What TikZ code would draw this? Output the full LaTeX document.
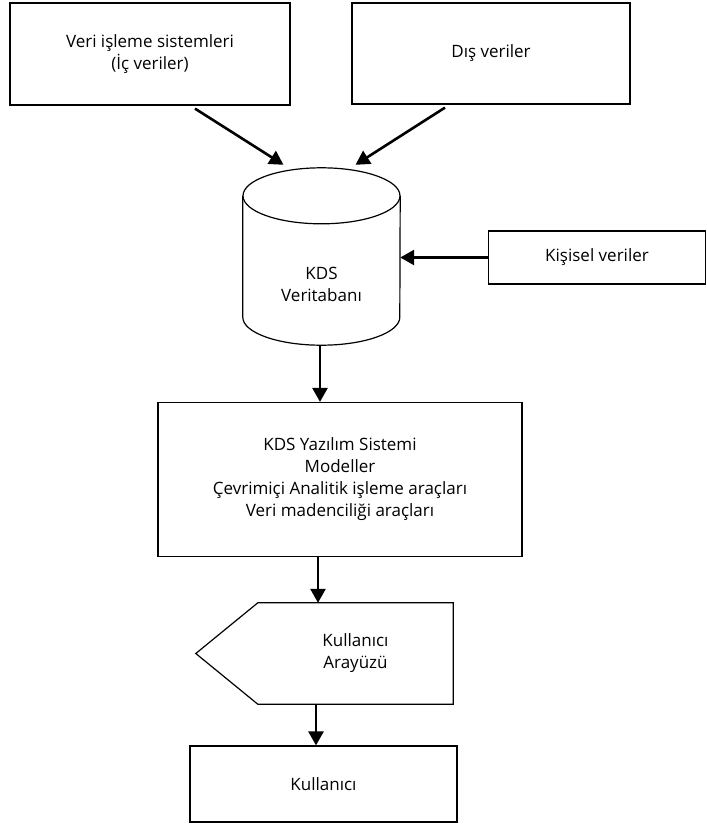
\documentclass[tikz,border=0pt]{standalone}
\usepackage{fontspec}
\setmainfont{Open Sans}
\usetikzlibrary{arrows.meta,positioning,calc}

\begin{document}
\begin{tikzpicture}[x=1pt,y=1pt,
    kutu/.style={draw, line width=1.2pt, align=center, inner sep=0pt,
      font=\fontsize{17}{22}\selectfont},
    ok/.style={line width=2.6pt, -{Triangle[length=14pt,width=15pt]}}]
  \useasboundingbox (0,0) rectangle (707,-825);

  % Veri kaynaklari
  \node[kutu, minimum width=280pt, minimum height=102pt] (ic) at (150,-54) {Veri işleme sistemleri\\(İç veriler)};
  \node[kutu, minimum width=278pt, minimum height=101pt] (dis) at (491,-53.5) {Dış veriler};
  \node[kutu, minimum width=217pt, minimum height=53pt] (kv) at (597,-257.5) {Kişisel veriler};

  % Veritabani (silindir)
  \node[inner sep=0pt, minimum width=157pt, minimum height=177pt,
    label={[align=center, yshift=-28pt, font=\fontsize{17}{22}\selectfont]center:KDS\\Veritabanı}] (db) at (321.5,-256.5) {};
  \draw[line width=1.2pt] ($(db.north)+(0,-28)$) ellipse [x radius=78.5pt, y radius=28pt];
  \draw[line width=1.2pt] ($(db.north west)+(0,-28)$) -- ($(db.south west)+(0,28)$)
    arc[start angle=180, end angle=360, x radius=78.5pt, y radius=28pt]
    -- ($(db.north east)+(0,-28)$);

  \node[kutu, minimum width=364pt, minimum height=154pt] (yz) at (340,-479.5) {KDS Yazılım Sistemi\\Modeller\\Çevrimiçi Analitik işleme araçları\\Veri madenciliği araçları};

  % Kullanici arayuzu
  \node[align=center, inner sep=0pt, minimum width=195pt, minimum height=101pt,
    font=\fontsize{17}{22}\selectfont] (ui) at (355.5,-653.5) {Kullanıcı\\Arayüzü};
  \draw[line width=1.2pt] (ui.north west) -- (ui.north east) -- (ui.south east)
    -- (ui.south west) -- ([xshift=-62pt]ui.west) -- cycle;

  \node[kutu, minimum width=267pt, minimum height=76pt] (kl) at (323.5,-784) {Kullanıcı};

  % Baglantilar
  \draw[ok] ([xshift=45pt,yshift=-3pt]ic.south) -- ([xshift=-38pt,yshift=3pt]db.north);
  \draw[ok] ([xshift=-46pt,yshift=-3pt]dis.south) -- ([xshift=34pt,yshift=3pt]db.north);
  \draw[ok] (kv.west) -- (kv.west -| db.east);
  \draw[ok] ([xshift=-1.5pt]db.south) -- ([xshift=-1.5pt]db.south |- yz.north);
  \draw[ok] ([xshift=-22pt]yz.south) -- ([xshift=-22pt]yz.south |- ui.north);
  \draw[ok] ([xshift=-7.5pt]kl.north |- ui.south) -- ([xshift=-7.5pt]kl.north);
\end{tikzpicture}
\end{document}
